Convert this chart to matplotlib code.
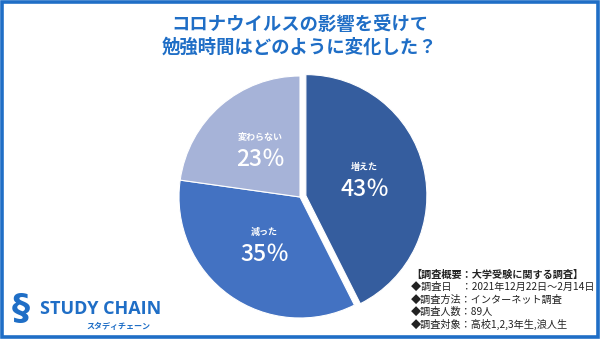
import numpy as np
import matplotlib.pyplot as plt
from matplotlib.patches import Rectangle

plt.rcParams['font.family'] = ['Noto Sans CJK JP', 'DejaVu Sans']

# 勉強時間の変化（%）
labels = ["増えた", "減った", "変わらない"]
values = [43, 35, 23]
colors = ["#355D9E", "#4372C2", "#A6B3D8"]
explode = [0.05, 0, 0]

title = "コロナウイルスの影響を受けて\n勉強時間はどのように変化した？"
notes = [
    "【調査概要：大学受験に関する調査】",
    "◆調査日　：2021年12月22日～2月14日",
    "◆調査方法：インターネット調査",
    "◆調査人数：89人",
    "◆調査対象：高校1,2,3年生,浪人生",
]

blue = "#1F6EC6"
W, H = 600, 339
fig = plt.figure(figsize=(6, 3.39), dpi=100)

# 枠線
fig.patches.append(Rectangle((0.003, 0.005), 0.994, 0.989, transform=fig.transFigure,
                             fill=False, edgecolor=blue, linewidth=2.6))

fig.text(0.5, 1 - 36 / H, title, ha="center", va="center", color=blue,
         fontsize=13.2, fontweight="bold", linespacing=1.25)

# 円グラフ
r_px = 121
lim = 1.1
cx, cy = 300, 197
aw, ah = 2 * lim * r_px / W, 2 * lim * r_px / H
ax = fig.add_axes([cx / W - aw / 2, 1 - cy / H - ah / 2, aw, ah])
wedges, _ = ax.pie(values, colors=colors, explode=explode, startangle=90,
                   counterclock=False, radius=1,
                   wedgeprops=dict(edgecolor="white", linewidth=0.8))
ax.set_xlim(-lim, lim)
ax.set_ylim(-lim, lim)
ax.set_aspect("equal")

for w, name, v in zip(wedges, labels, values):
    mid = np.deg2rad((w.theta1 + w.theta2) / 2)
    x, y = w.center[0] + 0.5 * np.cos(mid), w.center[1] + 0.5 * np.sin(mid)
    ax.annotate(name, (x, y), xytext=(0, 10), textcoords="offset points",
                ha="center", va="center", color="white", fontsize=6.5,
                fontweight="bold")
    ax.annotate(f"{v}％", (x, y), xytext=(0, -6), textcoords="offset points",
                ha="center", va="center", color="white", fontsize=16.5,
                fontweight="medium")

# 調査概要
for i, line in enumerate(notes):
    fig.text(411 / W, 1 - (275 + i * 12.3) / H, line, ha="left", va="center",
             fontsize=7.3, color="#222222",
             fontweight="bold" if i == 0 else "normal")

# ロゴ
fig.text(21 / W, 1 - 309 / H, "§", ha="center", va="center", color=blue,
         fontsize=26, fontweight="bold", family="DejaVu Sans")
fig.text(40 / W, 1 - 309 / H, "STUDY CHAIN", ha="left", va="center", color=blue,
         fontsize=13, fontweight="bold", family=["Open Sans", "DejaVu Sans"])
fig.text(150 / W, 1 - 326 / H, "スタディチェーン", ha="right", va="center",
         color=blue, fontsize=5.8, fontweight="bold")

fig.savefig("out.png", dpi=100)
